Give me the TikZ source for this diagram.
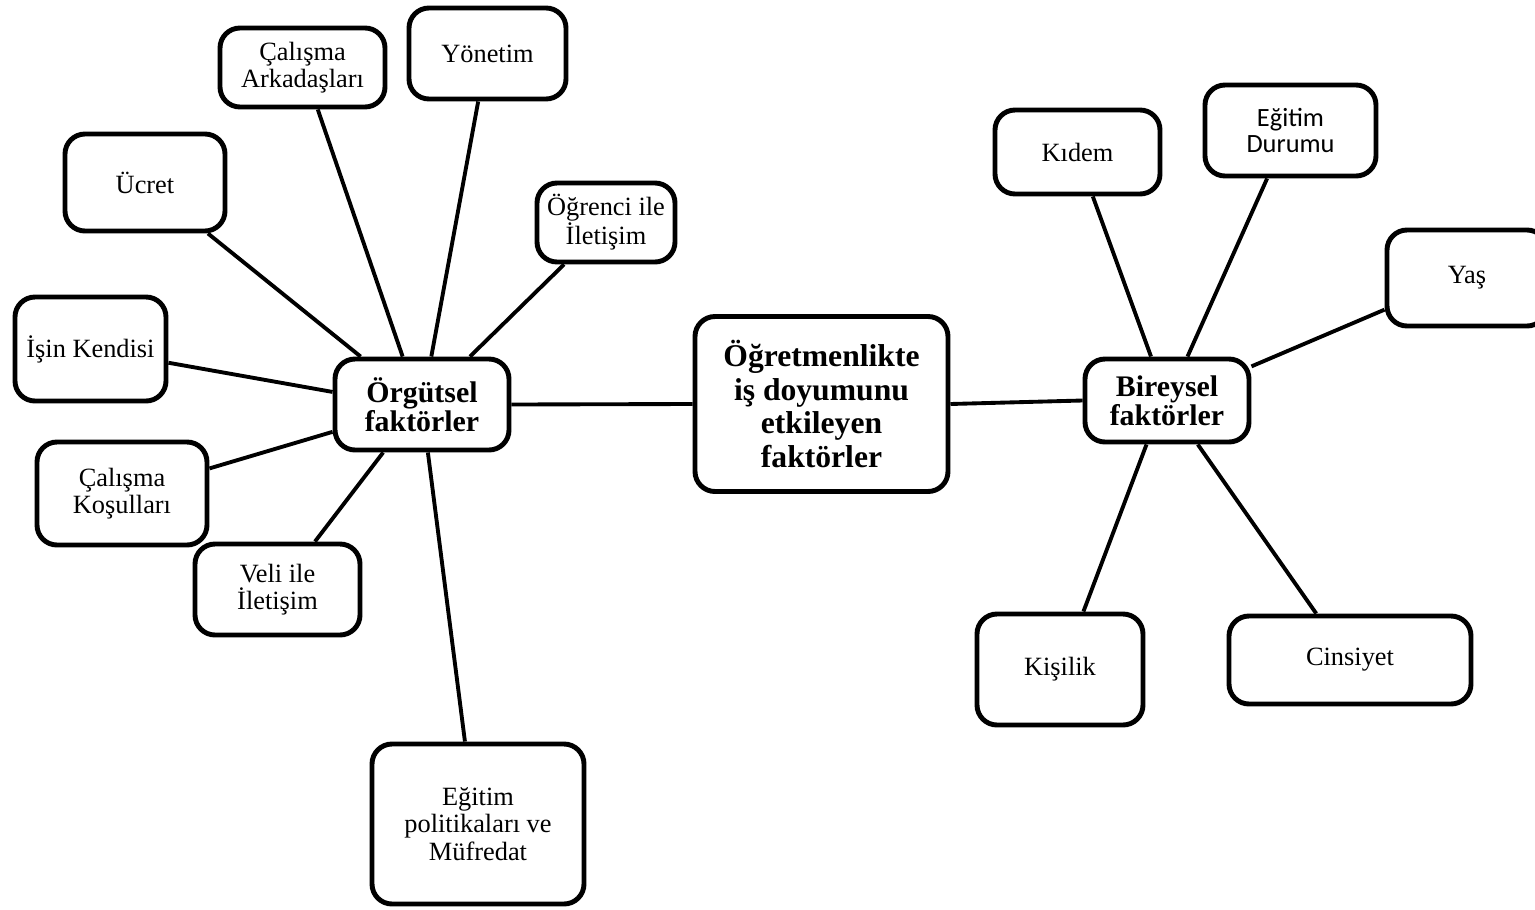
\documentclass[tikz,border=0pt]{standalone}
\usepackage{fontspec}
\setmainfont{Liberation Serif}
\newfontfamily\calibrifont{Carlito}

\begin{document}
\begin{tikzpicture}[x=0.2mm, y=-0.2mm]
		\def\mainrow{404}

		\tikzset{
			basic/.style={rectangle, rounded corners=4mm, draw=black, line width=2.8pt, fill=white, align=center, inner sep=2pt},
			leaf/.style={basic, font=\fontsize{15}{15.5}\selectfont},
			hub/.style={basic, font=\fontsize{17}{16.5}\selectfont\bfseries},
			spoke/.style={line width=2.2pt}
		}

		\useasboundingbox (0,0) rectangle (1535,909);

		% main nodes

		\node[hub, minimum width=50.6mm, minimum height=35mm, font=\fontsize{18}{19}\selectfont\bfseries] (IDF) at (821.5,\mainrow) {Öğretmenlikte\\iş doyumunu\\etkileyen\\faktörler};
		\node[hub, minimum width=34.8mm, minimum height=18.2mm] (OF) at (422,404.5) {Örgütsel\\faktörler};
		\node[hub, minimum width=32.8mm, minimum height=16.6mm] (BF) at (1167,400.5) {Bireysel\\faktörler};

		% organisational factors

		\node[leaf, minimum width=33mm, minimum height=15.8mm] (OF_ARK) at (302.5,67.5) {Çalışma\\Arkadaşları};
		\node[leaf, minimum width=31.4mm, minimum height=18.2mm] (OF_YON) at (487.5,53.5) {Yönetim};
		\node[leaf, minimum width=32mm, minimum height=19.4mm] (OF_UCR) at (145,182.5) {Ücret};
		\node[leaf, minimum width=27.6mm, minimum height=15.8mm] (OF_OGR) at (606,222.5) {Öğrenci ile\\İletişim};
		\node[leaf, minimum width=30.2mm, minimum height=20.8mm] (OF_ISN) at (90.5,349) {İşin Kendisi};
		\node[leaf, minimum width=34mm, minimum height=20.6mm] (OF_KOS) at (122,493.5) {Çalışma\\Koşulları};
		\node[leaf, minimum width=33mm, minimum height=18.2mm] (OF_VEL) at (277.5,589.5) {Veli ile\\İletişim};
		\node[leaf, minimum width=42.4mm, minimum height=32mm] (OF_POL) at (478,824) {Eğitim\\politikaları ve\\Müfredat};

		% individual factors

		\node[leaf, minimum width=33mm, minimum height=16.8mm] (BF_KID) at (1077.5,152) {Kıdem};
		\node[leaf, minimum width=34.2mm, minimum height=18.2mm, font=\calibrifont\fontsize{15}{14.5}\selectfont] (BF_EGD) at (1290.5,130.5) {Eğitim\\Durumu};
		\node[leaf, minimum width=32mm, minimum height=19.2mm] (BF_YAS) at (1467,278) {Yaş};
		\node[leaf, minimum width=33.2mm, minimum height=22.2mm] (BF_KIS) at (1060,669.5) {Kişilik};
		\node[leaf, minimum width=48.4mm, minimum height=17.6mm] (BF_CIN) at (1350,660) {Cinsiyet};

		% connections to the centre

		\draw[spoke] (OF.east) -- (IDF.west);
		\draw[spoke] (IDF.east) -- (BF.west);

		% organisational spokes

		\draw[spoke] (OF.142) -- (OF_UCR.-39);
		\draw[spoke] (OF.112) -- (OF_ARK.-70);
		\draw[spoke] (OF.79)  -- (OF_YON.-101);
		\draw[spoke] (OF.45)  -- (OF_OGR.225);
		\draw[spoke] (OF.172) -- (OF_ISN.-10);
		\draw[spoke] (OF.197) -- (OF_KOS.16);
		\draw[spoke] (OF.231) -- (OF_VEL.52);
		\draw[spoke] (OF.-83) -- (OF_POL.99);

		% individual spokes

		\draw[spoke] (BF.110)  -- (BF_KID.-71);
		\draw[spoke] (BF.65)   -- (BF_EGD.-116);
		\draw[spoke] (BF.22)   -- (BF_YAS.201);
		\draw[spoke] (BF.-115) -- (BF_KIS.68);
		\draw[spoke] (BF.-55)  -- (BF_CIN.126);
\end{tikzpicture}
\end{document}
